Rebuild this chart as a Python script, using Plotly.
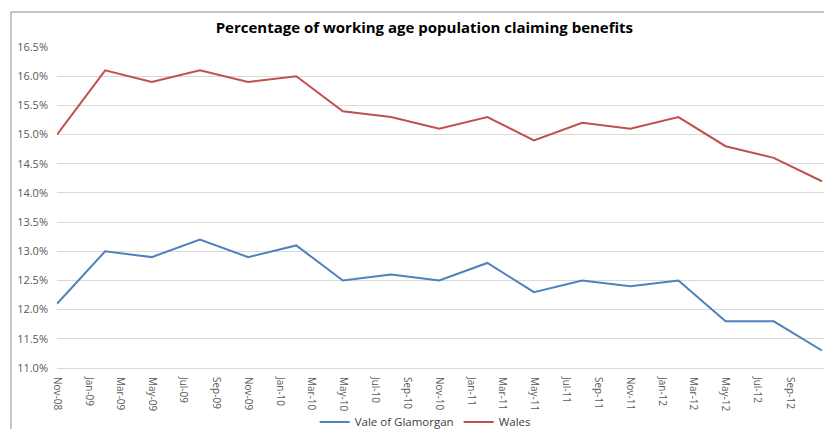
import plotly.graph_objects as go

# quarterly observations
dates = [
    "2008-11-01", "2009-02-01", "2009-05-01", "2009-08-01", "2009-11-01",
    "2010-02-01", "2010-05-01", "2010-08-01", "2010-11-01", "2011-02-01",
    "2011-05-01", "2011-08-01", "2011-11-01", "2012-02-01", "2012-05-01",
    "2012-08-01", "2012-11-01",
]
vale_of_glamorgan = [
    12.1, 13.0, 12.9, 13.2, 12.9, 13.1, 12.5, 12.6, 12.5, 12.8,
    12.3, 12.5, 12.4, 12.5, 11.8, 11.8, 11.3,
]
wales = [
    15.0, 16.1, 15.9, 16.1, 15.9, 16.0, 15.4, 15.3, 15.1, 15.3,
    14.9, 15.2, 15.1, 15.3, 14.8, 14.6, 14.2,
]

tick_dates = [
    "2008-11-01", "2009-01-01", "2009-03-01", "2009-05-01", "2009-07-01",
    "2009-09-01", "2009-11-01", "2010-01-01", "2010-03-01", "2010-05-01",
    "2010-07-01", "2010-09-01", "2010-11-01", "2011-01-01", "2011-03-01",
    "2011-05-01", "2011-07-01", "2011-09-01", "2011-11-01", "2012-01-01",
    "2012-03-01", "2012-05-01", "2012-07-01", "2012-09-01", "2012-11-01",
]
tick_labels = [
    "Nov-08", "Jan-09", "Mar-09", "May-09", "Jul-09", "Sep-09", "Nov-09",
    "Jan-10", "Mar-10", "May-10", "Jul-10", "Sep-10", "Nov-10", "Jan-11",
    "Mar-11", "May-11", "Jul-11", "Sep-11", "Nov-11", "Jan-12", "Mar-12",
    "May-12", "Jul-12", "Sep-12", "Nov-12",
]

FONT = "Open Sans"

fig = go.Figure()
fig.add_trace(go.Scatter(
    x=dates, y=[v / 100 for v in vale_of_glamorgan], name="Vale of Glamorgan",
    mode="lines", line=dict(color="#4F81BD", width=2),
))
fig.add_trace(go.Scatter(
    x=dates, y=[v / 100 for v in wales], name="Wales",
    mode="lines", line=dict(color="#C0504D", width=2),
))

fig.update_layout(
    width=824,
    height=429,
    margin=dict(l=57, r=0, t=47, b=61, autoexpand=False),
    paper_bgcolor="white",
    plot_bgcolor="white",
    font=dict(family=FONT, size=11, color="#595959"),
    title=dict(
        text="<b>Percentage of working age population claiming benefits</b>",
        x=0.515, xanchor="center", y=0.935, yanchor="middle",
        font=dict(family=FONT, size=15, color="#000000"),
    ),
    legend=dict(
        orientation="h", x=0.48, xanchor="center", y=-0.168, yanchor="middle",
        font=dict(family=FONT, size=11.5, color="#404040"),
        bgcolor="rgba(0,0,0,0)",
        itemwidth=30,
    ),
    xaxis=dict(
        type="date",
        range=["2008-11-01", "2012-11-05"],
        tickmode="array", tickvals=tick_dates, ticktext=tick_labels,
        tickangle=90, showgrid=False, automargin=False,
        showline=True, linecolor="#D9D9D9", linewidth=1,
        ticks="", ticklen=0, ticklabelstandoff=6,
        tickfont=dict(size=10, color="#595959"),
    ),
    yaxis=dict(
        range=[0.11, 0.165], dtick=0.005, tick0=0.11, tickformat=".1%",
        showgrid=True, gridcolor="#D9D9D9", gridwidth=1, automargin=False,
        zeroline=False, ticks="", ticklen=0, ticklabelstandoff=8,
        tickfont=dict(size=11, color="#595959"),
    ),
    showlegend=True,
)

# chart-area border (left and top edges visible in the crop)
fig.add_shape(type="line", xref="paper", yref="paper",
              x0=-0.06, x1=1.01, y0=1.109, y1=1.109,
              line=dict(color="#8C8C8C", width=1))
fig.add_shape(type="line", xref="paper", yref="paper",
              x0=-0.06, x1=-0.06, y0=1.109, y1=-0.2,
              line=dict(color="#8C8C8C", width=1))

fig.write_html(
    "out.html",
    config={"displayModeBar": False},
    post_script="document.body.style.margin='0';document.body.style.overflow='hidden';",
)
